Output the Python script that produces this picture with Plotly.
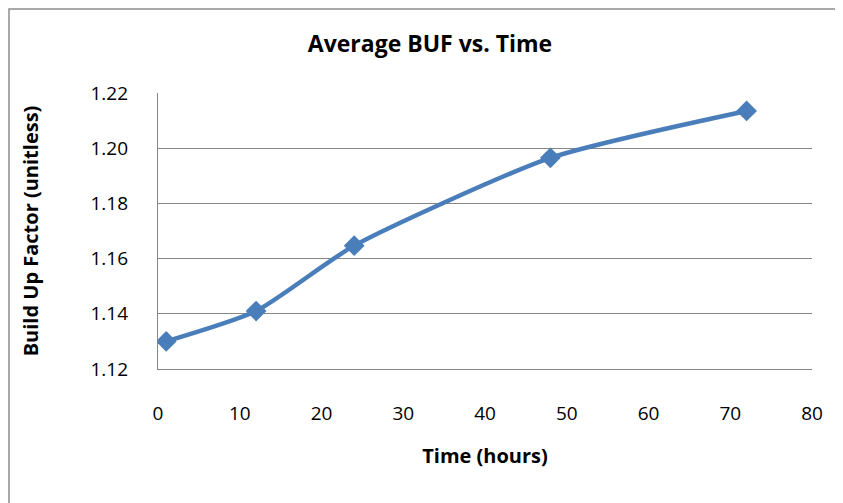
import plotly.graph_objects as go

time_hours = [1, 12, 24, 48, 72]
buf_values = [1.130, 1.141, 1.1647, 1.1965, 1.2135]
x_ticks = [0, 10, 20, 30, 40, 50, 60, 70, 80]
y_ticks = [1.12, 1.14, 1.16, 1.18, 1.20, 1.22]

W, H = 843, 503
OFF = 8  # page body margin
# target plot area in screen pixels
PL, PR, PT, PB = 158, 812, 93, 369
L, T = PL - OFF, PT - OFF
R = W - (PR - OFF)
B = H - (PB - OFF)
pw, ph = PR - PL, PB - PT

def px(xs):
    return (xs - PL) / pw

def py(ys):
    return 1 - (ys - PT) / ph

fig = go.Figure()
fig.add_trace(go.Scatter(
    x=time_hours, y=buf_values, mode="lines+markers",
    line=dict(color="#4A7EBB", width=4.5, shape="spline", smoothing=0.6),
    marker=dict(symbol="diamond", size=16, color="#4A7EBB"),
    showlegend=False, hoverinfo="x+y",
))

font_family = "'Open Sans', Lato, sans-serif"
fig.update_layout(
    width=W, height=H,
    margin=dict(l=L, r=R, t=T, b=B, pad=0),
    paper_bgcolor="white", plot_bgcolor="white",
    font=dict(family=font_family, color="black", size=18),
    title=dict(text="<b>Average BUF vs. Time</b>", x=(430 - OFF) / W, xanchor="center",
               y=1 - (44 - OFF) / H, yanchor="middle", font=dict(size=23, family=font_family)),
    xaxis=dict(range=[0, 80], tickvals=x_ticks, ticktext=[str(v) for v in x_ticks],
               showgrid=False, zeroline=False, showline=True, linecolor="#868686", linewidth=1.3,
               ticks="", tickfont=dict(size=19), ticklabelstandoff=27,
               title=dict(text="<b>Time (hours)</b>", font=dict(size=20), standoff=24)),
    yaxis=dict(range=[1.12, 1.22], tickvals=y_ticks, ticktext=[f"{v:.2f}" for v in y_ticks],
               showgrid=True, gridcolor="#868686", gridwidth=1.3, zeroline=False,
               showline=True, linecolor="#868686", linewidth=1.3,
               ticks="", tickfont=dict(size=19), ticklabelstandoff=25,
               title=dict(text="<b>Build Up Factor (unitless)</b>", font=dict(size=20), standoff=46)),
    shapes=[
        dict(type="rect", xref="paper", yref="paper",
             x0=px(9), x1=px(843), y0=py(530), y1=py(9),
             line=dict(color="#8C8C8C", width=1.5), fillcolor="rgba(0,0,0,0)", layer="below"),
    ],
)

fig.write_html("out.html")
